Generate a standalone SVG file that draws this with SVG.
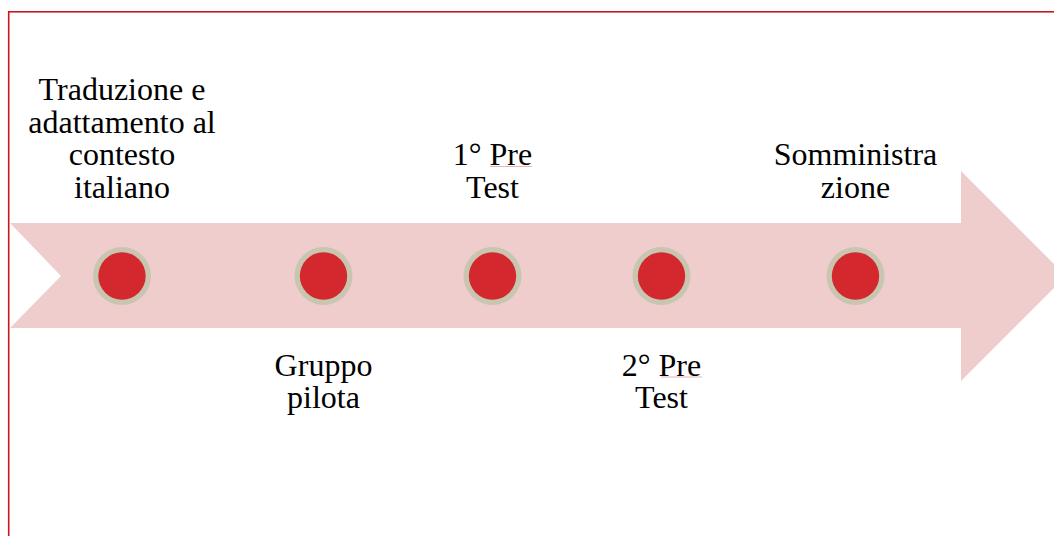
<svg xmlns="http://www.w3.org/2000/svg" width="1054" height="536" viewBox="0 0 1054 536">
  <style>
    .lbl { font-family: "Liberation Serif", "Times New Roman", serif; font-size: 32px; fill: #000; text-anchor: middle; }
    .ring { fill: #c8c6b0; }
    .dot { fill: #d2282e; }
    .squiggle { stroke: #e8a0a0; stroke-width: 0.8; fill: none; }
  </style>
  <rect width="1054" height="536" fill="#ffffff"/>
  <!-- frame -->
  <rect x="8.7" y="11.8" width="1100" height="600" fill="none" stroke="#c8171e" stroke-width="1.6"/>

  <!-- timeline arrow -->
  <g id="connectors">
    <polygon points="10,223 961,223 961,171 1066,276 961,381 961,328 10,328 61,276" fill="#eecdcc"/>
  </g>

  <g id="step1">
    <circle class="ring" cx="122" cy="276" r="29"/>
    <circle class="dot" cx="122" cy="276" r="23.7"/>
    <text class="lbl" x="122" y="100">Traduzione e</text>
    <text class="lbl" x="122" y="132.5">adattamento al</text>
    <text class="lbl" x="122" y="165">contesto</text>
    <text class="lbl" x="122" y="197.5">italiano</text>
  </g>

  <g id="step2">
    <circle class="ring" cx="323.5" cy="276" r="29"/>
    <circle class="dot" cx="323.5" cy="276" r="23.7"/>
    <text class="lbl" x="323.5" y="375.5">Gruppo</text>
    <text class="lbl" x="323.5" y="408">pilota</text>
  </g>

  <g id="step3">
    <circle class="ring" cx="492.5" cy="276" r="29"/>
    <circle class="dot" cx="492.5" cy="276" r="23.7"/>
    <text class="lbl" x="492.5" y="165">1° Pre</text>
    <text class="lbl" x="492.5" y="197.5">Test</text>
    <path class="squiggle" d="M490,166.5 L532,166.5"/>
  </g>

  <g id="step4">
    <circle class="ring" cx="661.5" cy="276" r="29"/>
    <circle class="dot" cx="661.5" cy="276" r="23.7"/>
    <text class="lbl" x="661.5" y="375.5">2° Pre</text>
    <text class="lbl" x="661.5" y="408">Test</text>
    <path class="squiggle" d="M661,377 L702,377"/>
  </g>

  <g id="step5">
    <circle class="ring" cx="855.5" cy="276" r="29"/>
    <circle class="dot" cx="855.5" cy="276" r="23.7"/>
    <text class="lbl" x="855.5" y="165">Somministra</text>
    <text class="lbl" x="855.5" y="197.5">zione</text>
  </g>
</svg>
